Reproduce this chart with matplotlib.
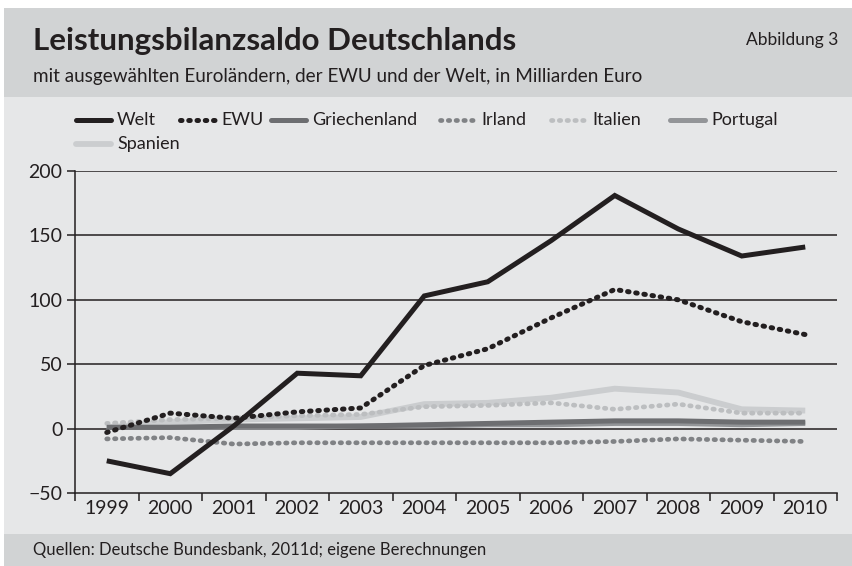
import matplotlib
matplotlib.use("Agg")
import matplotlib.pyplot as plt
from matplotlib.lines import Line2D
from matplotlib.patches import Rectangle

plt.rcParams['font.family'] = ['Lato', 'DejaVu Sans']

W, H = 852, 566

years = ['1999', '2000', '2001', '2002', '2003', '2004',
         '2005', '2006', '2007', '2008', '2009', '2010']
welt = [-25, -35, 2, 43, 41, 103, 114, 146, 181, 155, 134, 141]
ewu = [-3, 12, 8, 13, 16, 49, 62, 86, 108, 100, 83, 73]
griechenland = [1, 1, 2, 2, 2, 3, 4, 5, 6, 6, 5, 5]
irland = [-8, -7, -12, -11, -11, -11, -11, -11, -10, -8, -9, -10]
italien = [4, 7, 8, 10, 11, 17, 18, 20, 15, 19, 12, 12]
portugal = [1, 1, 1, 1, 2, 2, 3, 3, 4, 4, 3, 4]
spanien = [1, 5, 7, 8, 9, 19, 20, 24, 31, 28, 15, 14]

yticks = [-50, 0, 50, 100, 150, 200]

DOT = (0, (0.3, 1.35))
styles = {
    'Welt': dict(color='#231f20', lw=3.6, ls='-'),
    'EWU': dict(color='#231f20', lw=3.6, ls=DOT),
    'Griechenland': dict(color='#6d6e71', lw=3.6, ls='-'),
    'Irland': dict(color='#808285', lw=3.4, ls=DOT),
    'Italien': dict(color='#bcbec0', lw=3.4, ls=DOT),
    'Portugal': dict(color='#939598', lw=3.6, ls='-'),
    'Spanien': dict(color='#cbcdcf', lw=4.2, ls='-'),
}
series = {'Welt': welt, 'EWU': ewu, 'Griechenland': griechenland,
          'Irland': irland, 'Italien': italien, 'Portugal': portugal,
          'Spanien': spanien}


def fx(px):
    return px / W


def fy(py):
    return 1 - py / H


fig = plt.figure(figsize=(W / 100, H / 100), dpi=100, facecolor='white')

# background bands
fig.patches.append(Rectangle((fx(4), fy(97)), 1, fy(8) - fy(97), transform=fig.transFigure,
                             facecolor='#d1d3d4', edgecolor='none', zorder=-10))
fig.patches.append(Rectangle((fx(4), fy(534)), 1, fy(97) - fy(534), transform=fig.transFigure,
                             facecolor='#e6e7e8', edgecolor='none', zorder=-10))
fig.patches.append(Rectangle((fx(4), 0), 1, fy(534), transform=fig.transFigure,
                             facecolor='#d1d3d4', edgecolor='none', zorder=-10))

fig.text(fx(33), fy(41), 'Leistungsbilanzsaldo Deutschlands', fontsize=22.5, fontweight='bold',
         color='#231f20', va='center', ha='left')
fig.text(fx(838), fy(40), 'Abbildung 3', fontsize=12.5, color='#231f20', va='center', ha='right')
fig.text(fx(33), fy(76), 'mit ausgewählten Euroländern, der EWU und der Welt, in Milliarden Euro',
         fontsize=13.6, color='#231f20', va='center', ha='left')
fig.text(fx(33), fy(550), 'Quellen: Deutsche Bundesbank, 2011d; eigene Berechnungen',
         fontsize=12, color='#231f20', va='center', ha='left')

ax = fig.add_axes([fx(75), fy(493), fx(837) - fx(75), fy(171) - fy(493)])
ax.set_facecolor('none')
x = list(range(len(years)))
for name in ['Spanien', 'Portugal', 'Italien', 'Griechenland', 'Irland', 'EWU', 'Welt']:
    st = styles[name]
    ax.plot(x, series[name], color=st['color'], lw=st['lw'], linestyle=st['ls'],
            solid_capstyle='butt', dash_capstyle='round', solid_joinstyle='miter', zorder=3)

ax.set_xlim(-0.5, len(years) - 0.5)
ax.set_ylim(-50, 200)
ax.set_yticks(yticks)
ax.set_yticklabels([f'{v}'.replace('-', '\u2212') for v in yticks])
for v in yticks[1:]:
    ax.axhline(v, color='#231f20', lw=1.1, zorder=1)
ax.set_xticks([i - 0.5 for i in range(len(years) + 1)])
ax.set_xticklabels([])
ax.set_xticks(x, minor=True)
ax.set_xticklabels(years, minor=True)
ax.tick_params(axis='x', which='major', length=6, width=1.1, color='#231f20', direction='out')
ax.tick_params(axis='x', which='minor', length=0, pad=5, labelsize=14, labelcolor='#231f20')
ax.tick_params(axis='y', length=6, width=1.1, color='#231f20', pad=3, labelsize=14,
               labelcolor='#231f20')
for s in ['top', 'right']:
    ax.spines[s].set_visible(False)
for s in ['left', 'bottom']:
    ax.spines[s].set_color('#231f20')
    ax.spines[s].set_linewidth(1.1)

# legend, flowing like the original
legend_items = [
    ('Welt', 73, 120), ('EWU', 177, 120), ('Griechenland', 268, 120), ('Irland', 437, 120),
    ('Italien', 548, 120), ('Portugal', 667, 120), ('Spanien', 73, 144),
]
for name, px, py in legend_items:
    st = styles[name]
    fig.add_artist(Line2D([fx(px + 3), fx(px + 38)], [fy(py), fy(py)], transform=fig.transFigure,
                          color=st['color'], lw=st['lw'], linestyle=st['ls'],
                          solid_capstyle='round', dash_capstyle='round'))
    fig.text(fx(px + 44), fy(py), name, fontsize=13, color='#231f20', va='center', ha='left')

fig.savefig('out.png', dpi=100, facecolor='white')
